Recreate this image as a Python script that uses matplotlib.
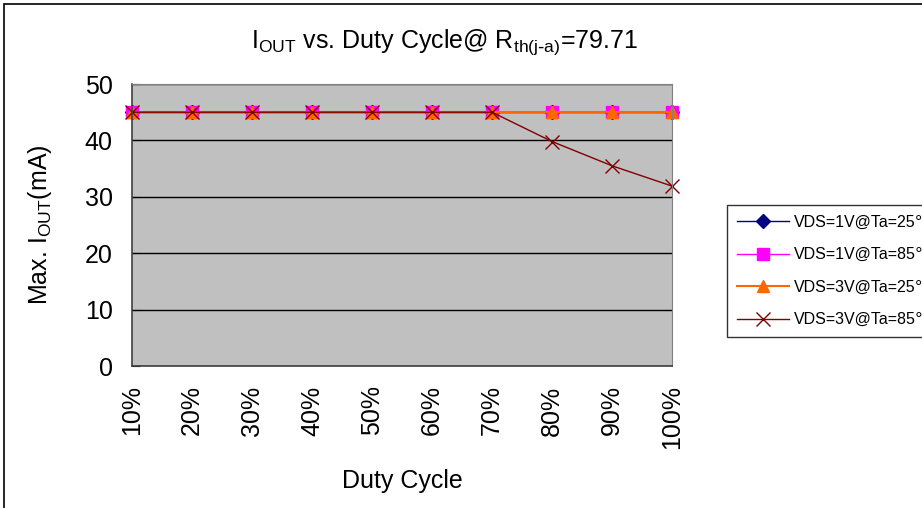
import matplotlib
matplotlib.use("Agg")
import matplotlib.pyplot as plt
from matplotlib.patches import Rectangle

plt.rcParams['font.family'] = ['Liberation Sans', 'DejaVu Sans']
plt.rcParams['mathtext.default'] = 'regular'

# 数据
duty_cycle = ['10%', '20%', '30%', '40%', '50%', '60%', '70%', '80%', '90%', '100%']
vds1_25 = [45, 45, 45, 45, 45, 45, 45, 45, 45, 45]
vds1_85 = [45, 45, 45, 45, 45, 45, 45, 45, 45, 45]
vds3_25 = [45, 45, 45, 45, 45, 45, 45, 45, 45, 45]
vds3_85 = [45, 45, 45, 45, 45, 45, 45, 39.8, 35.5, 31.9]
labels = ['VDS=1V@Ta=25℃', 'VDS=1V@Ta=85℃', 'VDS=3V@Ta=25℃', 'VDS=3V@Ta=85℃']

W, H = 922, 508
fig = plt.figure(figsize=(W / 100, H / 100), dpi=100)
ax = fig.add_axes([132 / W, 1 - 366 / H, (672 - 132) / W, (366 - 84) / H])
ax.set_facecolor('#C0C0C0')

x = list(range(len(duty_cycle)))
ax.plot(x, vds1_25, color='#000080', marker='D', markersize=7, lw=1, label=labels[0], clip_on=False)
ax.plot(x, vds1_85, color='#FF00FF', marker='s', markersize=8.5, lw=1, label=labels[1], clip_on=False)
ax.plot(x, vds3_25, color='#FF6600', marker='^', markersize=9, lw=1.5, label=labels[2], clip_on=False)
ax.plot(x, vds3_85, color='#800000', marker='x', markersize=10, mew=1, lw=1, label=labels[3], clip_on=False)

ax.set_xlim(0, len(duty_cycle) - 1)
ax.set_ylim(0, 50)
ax.set_yticks(range(0, 51, 10))
ax.yaxis.grid(True, color='black', lw=1)
ax.set_axisbelow(True)
ax.set_xticks(x)
ax.set_xticklabels(duty_cycle, rotation=90, fontsize=18)
ax.tick_params(axis='y', labelsize=18, direction='in', length=6, pad=14)
ax.tick_params(axis='x', length=0, pad=14)

for s in ['top', 'right']:
    ax.spines[s].set_color('#808080')
for s in ['left', 'bottom']:
    ax.spines[s].set_color('#404040')
    ax.spines[s].set_linewidth(1.2)

ax.set_ylabel('Max. I$_{OUT}$(mA)', fontsize=18, labelpad=22)
fig.text(402 / W, 1 - 481 / H, 'Duty Cycle', fontsize=18, ha='center', va='center')
fig.text(444 / W, 1 - 42 / H, r'I$_{OUT}$ vs. Duty Cycle@ R$_{th(j\text{-}a)}$=79.71',
         fontsize=18, ha='center', va='center')

# 图例（和原图一样超出右边界）
fig.legend(loc='upper left', bbox_to_anchor=(727 / W, 1 - 205 / H), borderaxespad=0,
           fontsize=11.5, frameon=True, fancybox=False, edgecolor='black',
           labelspacing=1.1, handlelength=3.3, handletextpad=0.3, borderpad=0.6)

# 图框
fig.patches.append(Rectangle((4 / W, -0.1), 1.2, 1 - 4 / H + 0.1, transform=fig.transFigure,
                             fill=False, edgecolor='black', lw=1.2))

fig.savefig('out.png', dpi=100)
